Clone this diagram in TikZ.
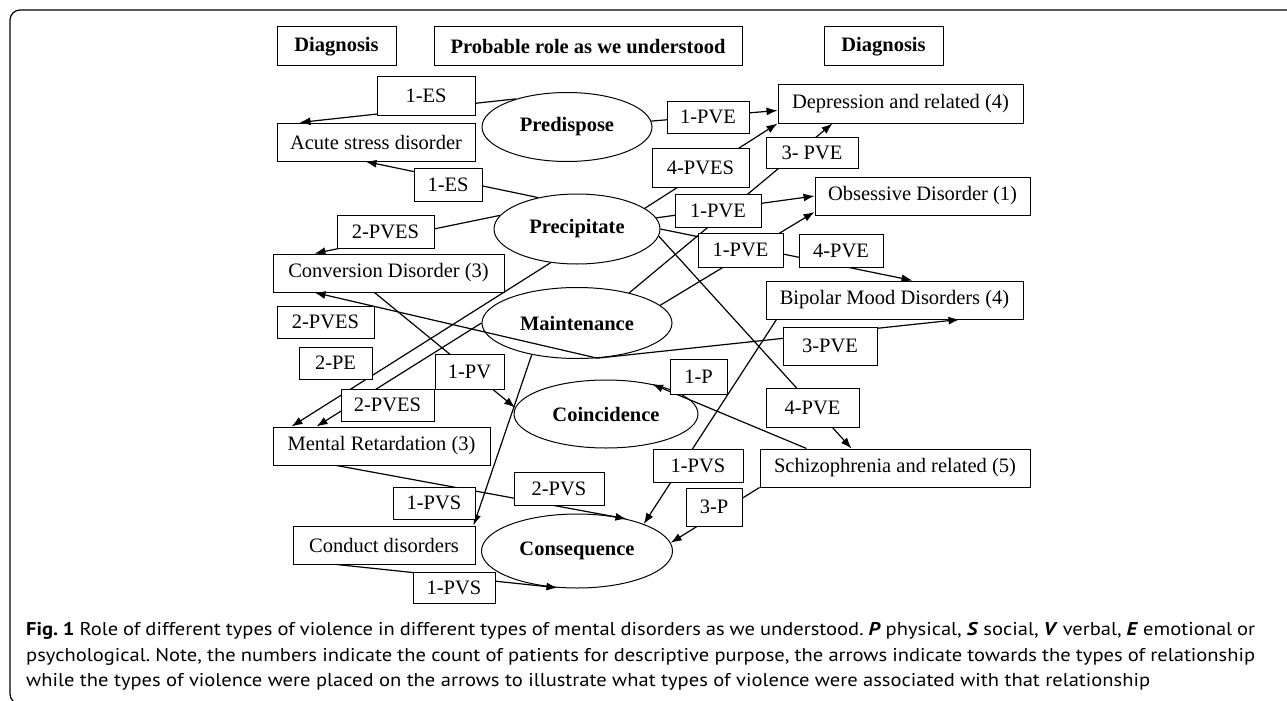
\documentclass[tikz,border=0pt]{standalone}
\usepackage{fontspec}
\setmainfont{Liberation Serif}
\newfontfamily\capfont[FakeStretch=1.11]{PT Sans}
\usetikzlibrary{shapes.geometric,arrows.meta}
\frenchspacing

\begin{document}
\begin{tikzpicture}[
        x=1pt, y=-1pt,
        box/.style={draw, line width=1pt, fill=white, inner sep=0pt, minimum height=38pt, font=\fontsize{20.5}{24}\selectfont},
        hdr/.style={box, minimum height=39pt, font=\fontsize{20.5}{24}\selectfont\bfseries},
        role/.style={draw, ellipse, line width=1pt, fill=white, inner sep=0pt, font=\fontsize{20.5}{24}\selectfont\bfseries},
        lab/.style={draw, line width=1pt, fill=white, inner sep=0pt, font=\fontsize{20.5}{24}\selectfont},
        forward/.style={->, line width=1.2pt}, >={Latex[length=11pt,width=8pt]}
    ]
        \useasboundingbox (0,0) rectangle (1287,701);
        % frame
        \draw[line width=1.2pt, rounded corners=10pt] (1287,10) -- (10,10) -- (10,704) -- (40,704);

        % headers
        \node[hdr, minimum width=119pt] (hdiagl) at (336.5,46.5) {Diagnosis};
        \node[hdr, minimum width=308pt] (hrole) at (588,46.5) {Probable role as we understood};
        \node[hdr, minimum width=119pt] (hdiagr) at (883.5,46.5) {Diagnosis};

        % roles
        \node[role, minimum width=170pt, minimum height=69pt] (predispose) at (567,127) {Predispose};
        \node[role, minimum width=166pt, minimum height=70pt] (precipitate) at (577,229) {Precipitate};
        \node[role, minimum width=190pt, minimum height=71pt] (maintenance) at (577,323) {Maintenance};
        \node[role, minimum width=184pt, minimum height=68pt] (coincidence) at (606,414) {Coincidence};
        \node[role, minimum width=191pt, minimum height=74pt] (consequence) at (577,551) {Consequence};

        % diagnoses, left
        \node[box, minimum width=198pt] (acute) at (376,142) {Acute stress disorder};
        \node[box, minimum width=231pt] (conversion) at (388.5,273) {Conversion Disorder (3)};
        \node[box, minimum width=217pt] (mr) at (381.5,446) {Mental Retardation (3)};
        \node[box, minimum width=182pt] (conduct) at (384,545) {Conduct disorders};
        % diagnoses, right
        \node[box, minimum width=245pt, minimum height=39pt] (depression) at (900.5,103.5) {Depression and related (4)};
        \node[box, minimum width=215pt] (obsessive) at (922.5,196) {Obsessive Disorder (1)};
        \node[box, minimum width=257pt] (bipolar) at (894.5,300) {Bipolar Mood Disorders (4)};
        \node[box, minimum width=270pt] (schizo) at (895,468) {Schizophrenia and related (5)};

        % relationships
        \draw[forward] (predispose.151) -- ([xshift=23pt]acute.north west);
        \draw[forward] (precipitate.141) -- ([xshift=89pt]acute.south west);
        \draw[forward] (predispose.4) -- ([yshift=-7pt]depression.west);
        \draw[forward] (precipitate.17) -- (depression.south west);
        \draw[forward] (maintenance.30) -- ([xshift=55pt]depression.south west);
        \draw[forward] (precipitate.8) -- (obsessive.west);
        \draw[forward] (maintenance.12) -- ([yshift=-16pt]obsessive.west);
        \draw[forward] (precipitate.east) -- ([xshift=147pt]bipolar.north west);
        \draw[forward] (maintenance.-60) -- ([xshift=194pt]bipolar.south west);
        \draw[forward] (precipitate.170) -- ([xshift=42pt]conversion.north west);
        \draw[forward] (maintenance.-60) -- ([xshift=42pt]conversion.south west);
        \draw[forward] (precipitate.232) -- ([xshift=19pt]mr.north west);
        \draw[forward] (maintenance.west) -- ([xshift=44pt]mr.north west);
        \draw[forward] ([xshift=102pt]conversion.south west) -- (coincidence.176);
        \draw[forward] (precipitate.-5) -- ([xshift=92pt]schizo.north west);
        \draw[forward] ([xshift=47pt]schizo.north west) -- (coincidence.33);
        \draw[forward] ([xshift=11pt]bipolar.south west) -- (consequence.22);
        \draw[forward] (schizo.south west) -- (consequence.5);
        \draw[forward] ([xshift=64pt]mr.south west) -- (consequence.33);
        \draw[forward] (maintenance.215) -- ([xshift=-2pt]conduct.north east);
        \draw[forward] ([xshift=44pt]conduct.south west) -- (consequence.242);

        % types of violence
        \node[lab, minimum width=98pt, minimum height=39pt] (es1) at (426,95.5) {1-ES};
        \node[lab, minimum width=68pt, minimum height=33pt] (es2) at (448,184.5) {1-ES};
        \node[lab, minimum width=82pt, minimum height=32pt] (pve1) at (708,117) {1-PVE};
        \node[lab, minimum width=97pt, minimum height=39pt] (pves1) at (700.5,167.5) {4-PVES};
        \node[lab, minimum width=92pt, minimum height=31pt] (pve2) at (812,152.5) {3- PVE};
        \node[lab, minimum width=86pt, minimum height=33pt] (pve3) at (718,210.5) {1-PVE};
        \node[lab, minimum width=85pt, minimum height=34pt] (pve4) at (740.5,250) {1-PVE};
        \node[lab, minimum width=84pt, minimum height=33pt] (pve5) at (841,250.5) {4-PVE};
        \node[lab, minimum width=94pt, minimum height=38pt] (pve6) at (830,346) {3-PVE};
        \node[lab, minimum width=97pt, minimum height=33pt] (pves2) at (385.5,231.5) {2-PVES};
        \node[lab, minimum width=97pt, minimum height=32pt] (pves3) at (325.5,322) {2-PVES};
        \node[lab, minimum width=73pt, minimum height=32pt] (pe) at (335.5,363) {2-PE};
        \node[lab, minimum width=93pt, minimum height=32pt] (pves4) at (387.5,405) {2-PVES};
        \node[lab, minimum width=69pt, minimum height=35pt] (pv) at (469.5,371.5) {1-PV};
        \node[lab, minimum width=93pt, minimum height=39pt] (pve7) at (812.5,407.5) {4-PVE};
        \node[lab, minimum width=57pt, minimum height=35pt] (p1) at (698.5,376.5) {1-P};
        \node[lab, minimum width=90pt, minimum height=33pt] (pvs1) at (698,465.5) {1-PVS};
        \node[lab, minimum width=56pt, minimum height=38pt] (p3) at (714,507) {3-P};
        \node[lab, minimum width=90pt, minimum height=33pt] (pvs2) at (559,488.5) {2-PVS};
        \node[lab, minimum width=82pt, minimum height=32pt] (pvs3) at (434,503) {1-PVS};
        \node[lab, minimum width=82pt, minimum height=31pt] (pvs4) at (454,587.5) {1-PVS};

        % caption
        \node[anchor=base west, inner sep=0pt, font=\capfont\fontsize{18.5}{22}\selectfont] (cap1) at (26,635)
            {\makebox[1229pt][s]{\textbf{Fig. 1} Role of different types of violence in different types of mental disorders as we understood. \textbf{\textit{P}} physical, \textbf{\textit{S}} social, \textbf{\textit{V}} verbal, \textbf{\textit{E}} emotional or}};
        \node[anchor=base west, inner sep=0pt, font=\capfont\fontsize{18.5}{22}\selectfont] (cap2) at (26,661)
            {\makebox[1229pt][s]{psychological. Note, the numbers indicate the count of patients for descriptive purpose, the arrows indicate towards the types of relationship}};
        \node[anchor=base west, inner sep=0pt, font=\capfont\fontsize{18.5}{22}\selectfont] (cap3) at (26,686)
            {while the types of violence were placed on the arrows to illustrate what types of violence were associated with that relationship};
    \end{tikzpicture}
\end{document}
